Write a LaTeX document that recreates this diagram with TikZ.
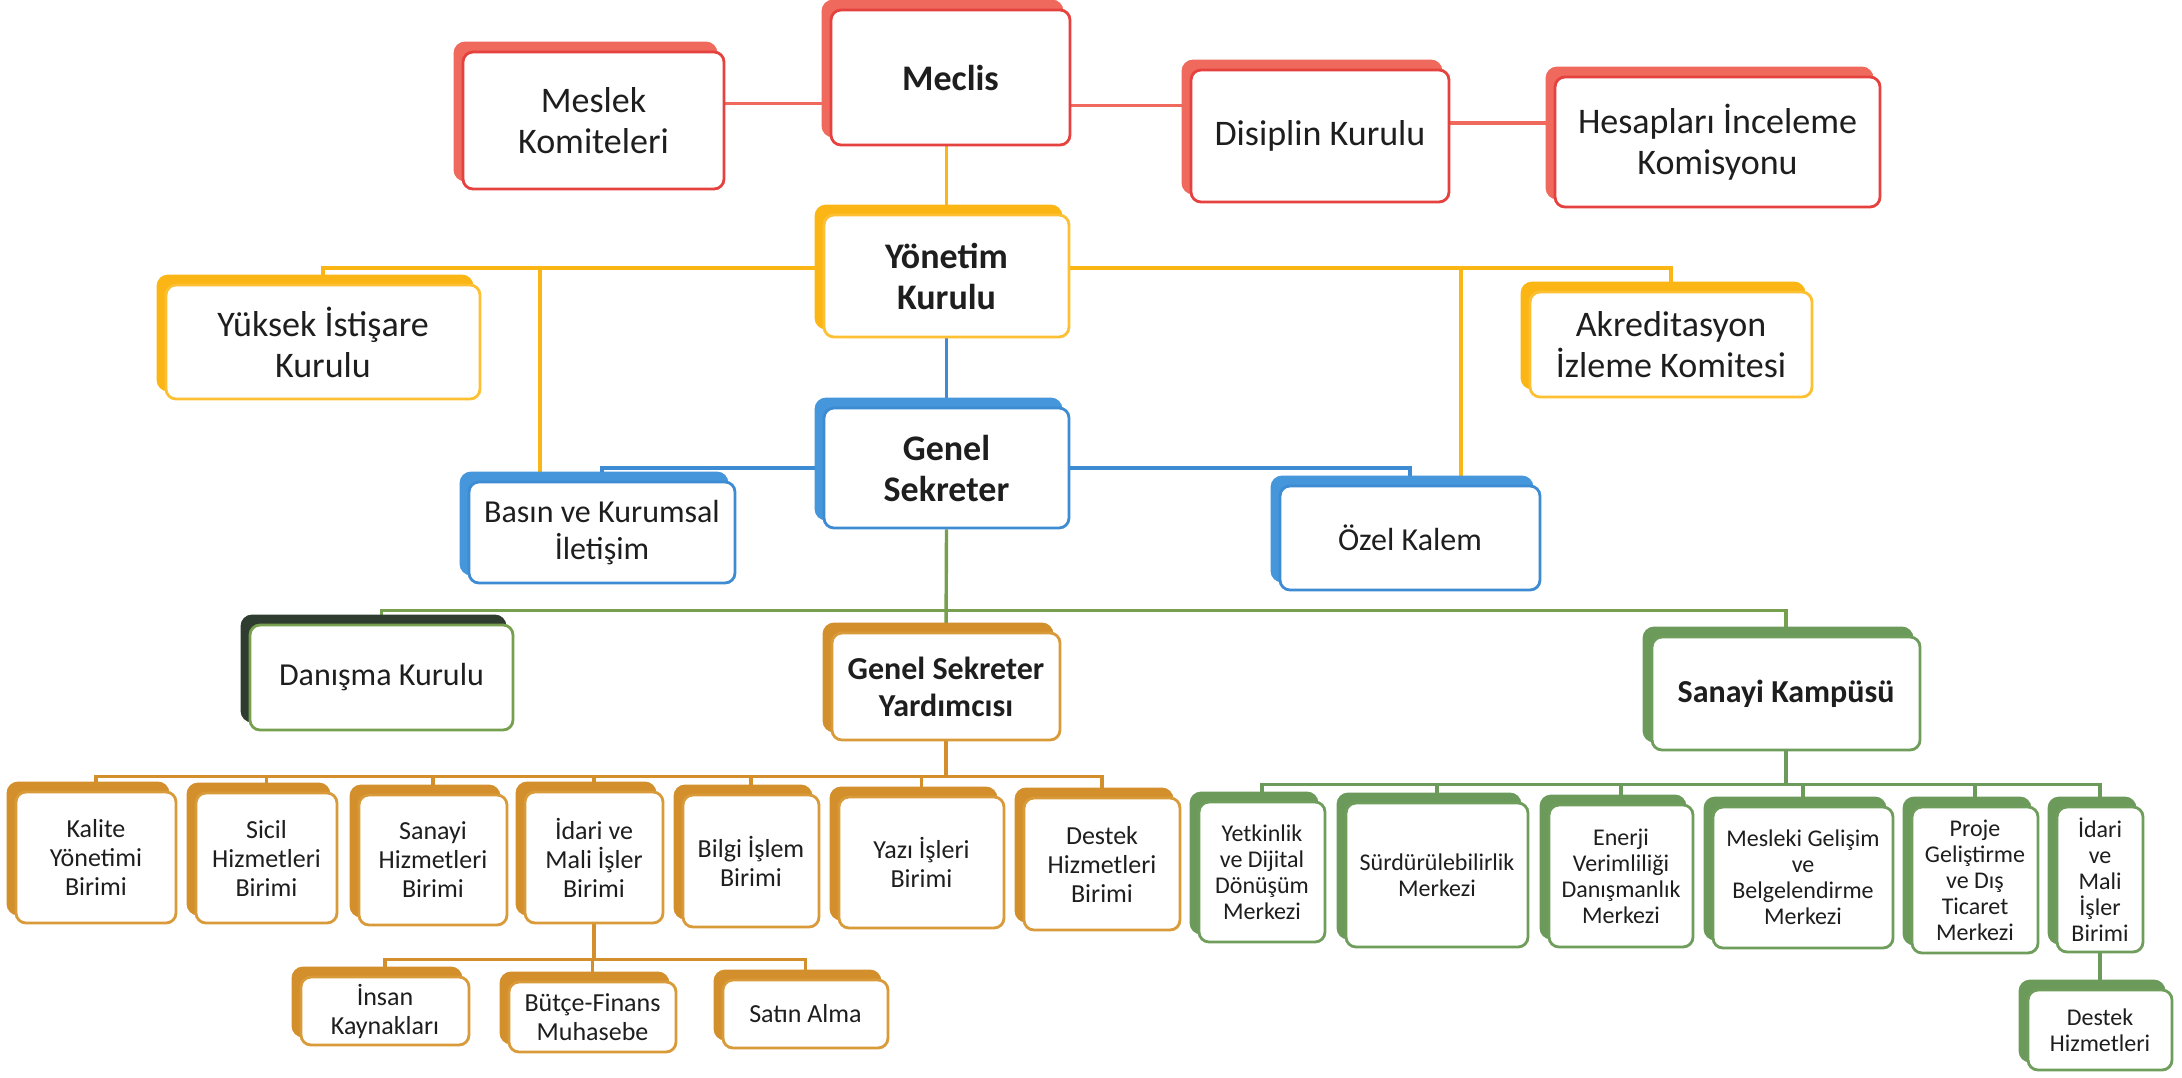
\documentclass[tikz,border=0pt]{standalone}
\usepackage{fontspec}
\setmainfont{Carlito}
\usetikzlibrary{positioning,shadows,calc}
\pgfdeclarelayer{bg}
\pgfsetlayers{bg,main}
\definecolor{txt}{HTML}{1E1E1E}
\definecolor{redb}{HTML}{EF6A5C}
\definecolor{redd}{HTML}{E5413F}
\definecolor{yelb}{HTML}{FBB615}
\definecolor{yeld}{HTML}{FCC032}
\definecolor{blub}{HTML}{4696DB}
\definecolor{blud}{HTML}{3D8BD3}
\definecolor{grnl}{HTML}{76A04E}
\definecolor{drkb}{HTML}{2F3D30}
\definecolor{ochb}{HTML}{D38F2C}
\definecolor{ochd}{HTML}{D99A3A}
\definecolor{kmpb}{HTML}{6B9A5B}
\definecolor{kmpd}{HTML}{6F9D5C}
\tikzset{unitbox/.style={rounded corners=5pt,fill=white,line width=1.4pt,align=center,inner sep=0pt,text=txt}}
\tikzset{sz/.style 2 args={minimum width=#1*0.5pt,minimum height=#2*0.5pt}}
\tikzset{back/.style={general shadow={fill=#1,draw=#1,shadow xshift=-4pt,shadow yshift=4.5pt}}}
\tikzset{redbox/.style={unitbox,draw=redd,back=redb},
         yelbox/.style={unitbox,draw=yeld,back=yelb},
         blubox/.style={unitbox,draw=blud,back=blub},
         drkbox/.style={unitbox,draw=grnl,back=drkb},
         ochbox/.style={unitbox,draw=ochd,back=ochb},
         kmpbox/.style={unitbox,draw=kmpd,back=kmpb}}
\tikzset{bigtxt/.style={font=\fontsize{18}{20.5}\selectfont},
         bigbold/.style={font=\fontsize{18}{20.5}\selectfont\bfseries},
         midtxt/.style={font=\fontsize{16}{18.5}\selectfont},
         midbold/.style={font=\fontsize{16}{18.5}\selectfont\bfseries},
         smltxt/.style={font=\fontsize{13}{14.5}\selectfont},
         tnytxt/.style={font=\fontsize{12}{13}\selectfont}}
\tikzset{ln/.style={line width=1.7pt,draw=#1}}

\begin{document}
\begin{tikzpicture}[x=0.5pt,y=-0.5pt]
	\useasboundingbox (0,0) rectangle (2182,1077);
	% upper levels
	\node[redbox,bigtxt,sz={261}{137}] (meslek) at (593.5,120.5) {Meslek\\Komiteleri};
	\node[redbox,bigbold,sz={239}{135}] (meclis) at (950.5,77.5) {Meclis};
	\node[redbox,bigtxt,sz={258}{132}] (disiplin) at (1320,136) {Disiplin Kurulu};
	\node[redbox,bigtxt,sz={325}{130}] (hesap) at (1717.5,142) {Hesapları İnceleme\\Komisyonu};
	\node[yelbox,bigbold,sz={245}{122}] (yonetim) at (946.5,276) {Yönetim\\Kurulu};
	\node[yelbox,bigtxt,sz={314}{114}] (yuksek) at (323,342) {Yüksek İstişare\\Kurulu};
	\node[yelbox,bigtxt,sz={282}{105}] (akredit) at (1671,344.5) {Akreditasyon\\İzleme Komitesi};
	\node[blubox,bigbold,sz={245}{120}] (genel) at (946.5,468) {Genel\\Sekreter};
	\node[blubox,midtxt,sz={266}{101}] (basin) at (602,532.5) {Basın ve Kurumsal\\İletişim};
	\node[blubox,midtxt,sz={260}{104}] (ozel) at (1410,538) {Özel Kalem};
	\node[drkbox,midtxt,sz={263}{105}] (danisma) at (381.5,677.5) {Danışma Kurulu};
	\node[ochbox,midbold,sz={228}{107}] (gsy) at (946,686.5) {Genel Sekreter\\Yardımcısı};
	\node[kmpbox,midbold,sz={268}{113}] (kampus) at (1786,693.5) {Sanayi Kampüsü};
	% units
	\node[ochbox,smltxt,sz={160}{131}] (kalite) at (96,857.5) {Kalite\\Yönetimi\\Birimi};
	\node[ochbox,smltxt,sz={141}{130}] (sicil) at (266.5,858) {Sicil\\Hizmetleri\\Birimi};
	\node[ochbox,smltxt,sz={148}{130}] (sanayi) at (433,860) {Sanayi\\Hizmetleri\\Birimi};
	\node[ochbox,smltxt,sz={138}{131}] (idari) at (594,857.5) {İdari ve\\Mali İşler\\Birimi};
	\node[ochbox,smltxt,sz={136}{132}] (bilgi) at (751,861) {Bilgi İşlem\\Birimi};
	\node[ochbox,smltxt,sz={165}{131}] (yazi) at (921.5,862.5) {Yazı İşleri\\Birimi};
	\node[ochbox,smltxt,sz={156}{132}] (destek) at (1102,864) {Destek\\Hizmetleri\\Birimi};
	\node[ochbox,smltxt,sz={168}{68}] (insan) at (385,1011) {İnsan\\Kaynakları};
	\node[ochbox,smltxt,sz={167}{70}] (butce) at (592.5,1017) {Bütçe-Finans\\Muhasebe};
	\node[ochbox,smltxt,sz={165}{68}] (satin) at (805.5,1014) {Satın Alma};
	\node[kmpbox,tnytxt,sz={126}{140}] (yetkin) at (1262,872) {Yetkinlik\\ve Dijital\\Dönüşüm\\Merkezi};
	\node[kmpbox,tnytxt,sz={182}{144}] (surdur) at (1437,875) {Sürdürülebilirlik\\Merkezi};
	\node[kmpbox,tnytxt,sz={144}{142}] (enerji) at (1621,876) {Enerji\\Verimliliği\\Danışmanlık\\Merkezi};
	\node[kmpbox,tnytxt,sz={180}{141}] (mesleki) at (1803,877.5) {Mesleki Gelişim\\ve\\Belgelendirme\\Merkezi};
	\node[kmpbox,tnytxt,sz={126}{146}] (proje) at (1975,880) {Proje\\Geliştirme\\ve Dış\\Ticaret\\Merkezi};
	\node[kmpbox,tnytxt,sz={86}{145}] (idarik) at (2100,879.5) {İdari\\ve\\Mali\\İşler\\Birimi};
	\node[kmpbox,tnytxt,sz={144}{80}] (destekk) at (2100,1030) {Destek\\Hizmetleri};

	\coordinate (rl) at ([yshift=-13pt]meclis.west);
	\coordinate (rr) at ([yshift=-14pt]meclis.east);
	\coordinate (rh) at ([yshift=6.5pt]disiplin.east);
	\coordinate (yl) at ([yshift=4pt]yonetim.west);
	\coordinate (yr) at ([yshift=4pt]yonetim.east);
	\coordinate (gl) at ([yshift=10.5pt]gsy.north);
	\coordinate (ob) at ([yshift=-17.5pt]gsy.south);
	\coordinate (ib) at ([yshift=-17.5pt]idari.south);
	\coordinate (kb) at ([yshift=-16.5pt]kampus.south);

	\begin{pgfonlayer}{bg}
	\draw[ln=redb] (rl) -- (rl -| meslek.east);
	\draw[ln=redb] (rr) -- (rr -| disiplin.west);
	\draw[ln=redb] (rh) -- (rh -| hesap.west);
	\draw[ln=yelb] (yonetim.north) -- (yonetim.north |- meclis.south);
	\draw[ln=yelb] (yl) -| (yuksek.north);
	\draw[ln=yelb] (yr) -| (akredit.north);
	\draw[ln=yelb] ([xshift=-31pt]basin.north) |- (yl);
	\draw[ln=yelb] ([xshift=25.5pt]ozel.north) |- (yr);
	\draw[ln=blud] (genel.north) -- (genel.north |- yonetim.south);
	\draw[ln=blud] (genel.west) -| (basin.north);
	\draw[ln=blud] (genel.east) -| (ozel.north);
	\draw[ln=grnl] (genel.south) -- (gsy.north);
	\draw[ln=grnl] (danisma.north) |- (gl) -| (kampus.north);
	\draw[ln=ochb] (gsy.south) -- (ob);
	\foreach \u in {kalite,sicil,sanayi,idari,bilgi,yazi,destek}
		\draw[ln=ochb] (ob) -| (\u.north);
	\draw[ln=ochb] (idari.south) -- (ib);
	\foreach \u in {insan,butce,satin}
		\draw[ln=ochb] (ib) -| (\u.north);
	\draw[ln=kmpb] (kampus.south) -- (kb);
	\foreach \u in {yetkin,surdur,enerji,mesleki,proje,idarik}
		\draw[ln=kmpb] (kb) -| (\u.north);
	\draw[ln=kmpb] (idarik.south) -- (destekk.north);
	\end{pgfonlayer}
\end{tikzpicture}
\end{document}
